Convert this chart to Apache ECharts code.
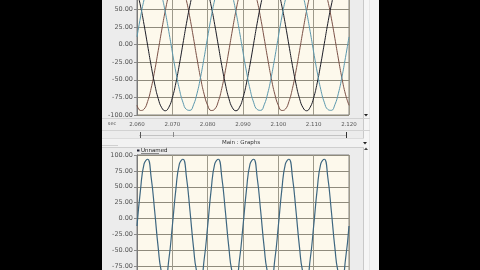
<!DOCTYPE html>
<html>
<head>
<meta charset="utf-8">
<script src="https://cdn.jsdelivr.net/npm/echarts@6/dist/echarts.min.js"></script>
<style>
html,body{margin:0;padding:0;background:#000;}
#c{width:480px;height:270px;}
</style>
</head>
<body>
<div id="c"></div>
<script>
// time samples (seconds)
var timeSec = [2.060,2.061,2.062,2.063,2.064,2.065,2.066,2.067,2.068,2.069,
  2.070,2.071,2.072,2.073,2.074,2.075,2.076,2.077,2.078,2.079,
  2.080,2.081,2.082,2.083,2.084,2.085,2.086,2.087,2.088,2.089,
  2.090,2.091,2.092,2.093,2.094,2.095,2.096,2.097,2.098,2.099,
  2.100,2.101,2.102,2.103,2.104,2.105,2.106,2.107,2.108,2.109,
  2.110,2.111,2.112,2.113,2.114,2.115,2.116,2.117,2.118,2.119,2.120];

// top graph: three phase traces
var phaseA = [-86.3,-93.6,-91.7,-80.9,-62.2,-37.3,-8.8,20.5,47.8,70.5,86.3,93.6,91.7,80.9,62.2,37.3,8.8,-20.5,-47.8,-70.5,
  -86.3,-93.6,-91.7,-80.9,-62.2,-37.3,-8.8,20.5,47.8,70.5,86.3,93.6,91.7,80.9,62.2,37.3,8.8,-20.5,-47.8,-70.5,
  -86.3,-93.6,-91.7,-80.9,-62.2,-37.3,-8.8,20.5,47.8,70.5,86.3,93.6,91.7,80.9,62.2,37.3,8.8,-20.5,-47.8,-70.5,-86.3];
var phaseB = [75.5,54.5,28.1,-1.0,-30.0,-56.0,-76.6,-89.7,-94.0,-89.1,-75.5,-54.5,-28.1,1.0,30.0,56.0,76.6,89.7,94.0,89.1,
  75.5,54.5,28.1,-1.0,-30.0,-56.0,-76.6,-89.7,-94.0,-89.1,-75.5,-54.5,-28.1,1.0,30.0,56.0,76.6,89.7,94.0,89.1,
  75.5,54.5,28.1,-1.0,-30.0,-56.0,-76.6,-89.7,-94.0,-89.1,-75.5,-54.5,-28.1,1.0,30.0,56.0,76.6,89.7,94.0,89.1,75.5];
var phaseC = [10.8,39.1,63.6,81.9,92.1,93.4,85.5,69.2,46.1,18.6,-10.8,-39.1,-63.6,-81.9,-92.1,-93.4,-85.5,-69.2,-46.1,-18.6,
  10.8,39.1,63.6,81.9,92.1,93.4,85.5,69.2,46.1,18.6,-10.8,-39.1,-63.6,-81.9,-92.1,-93.4,-85.5,-69.2,-46.1,-18.6,
  10.8,39.1,63.6,81.9,92.1,93.4,85.5,69.2,46.1,18.6,-10.8,-39.1,-63.6,-81.9,-92.1,-93.4,-85.5,-69.2,-46.1,-18.6,10.8];

// bottom graph: "Unnamed"
var unnamed = [-11.9,45.8,86.0,93.3,65.0,11.9,-45.8,-86.0,-93.3,-65.0,
  -11.9,45.8,86.0,93.3,65.0,11.9,-45.8,-86.0,-93.3,-65.0,
  -11.9,45.8,86.0,93.3,65.0,11.9,-45.8,-86.0,-93.3,-65.0,
  -11.9,45.8,86.0,93.3,65.0,11.9,-45.8,-86.0,-93.3,-65.0,
  -11.9,45.8,86.0,93.3,65.0,11.9,-45.8,-86.0,-93.3,-65.0,
  -11.9,45.8,86.0,93.3,65.0,11.9,-45.8,-86.0,-93.3,-65.0,-11.9];

var xMin = 2.06, xMax = 2.12, xStep = 0.01;
var yMin = -100, yMax = 100, yStep = 25;
var xUnit = 'sec';
var panelTitle = 'Main : Graphs';
var curveName = 'Unnamed';

function pairs(vals){ return timeSec.map(function(t,i){ return [t, vals[i]]; }); }

var FONT = 'DejaVu Sans';
function xAx(gi, showLabels){
  return {type:'value', gridIndex:gi, min:xMin, max:xMax, interval:xStep,
    axisLine:{show:false}, axisTick:{show:false},
    splitLine:{show:true, lineStyle:{color:'#9d998a', width:1}},
    axisLabel:{show:showLabels, formatter:function(v){return v.toFixed(3);}, fontSize:5.5, fontFamily:FONT, color:'#555', margin:7}};
}
function yAx(gi){
  return {type:'value', gridIndex:gi, min:yMin, max:yMax, interval:yStep,
    axisLine:{show:true, lineStyle:{color:'#7a7a7a'}},
    axisTick:{show:true, length:3, lineStyle:{color:'#8a8a8a'}},
    splitLine:{show:true, lineStyle:{color:'#8f8b7c', width:1}},
    axisLabel:{formatter:function(v){return v.toFixed(2);}, fontSize:6.5, fontFamily:FONT, color:'#555', margin:4}};
}
function ln(name, vals, xi, color, w){
  return {type:'line', name:name, xAxisIndex:xi, yAxisIndex:xi, data:pairs(vals), showSymbol:false, smooth:true,
    lineStyle:{color:color, width:w}, itemStyle:{color:color}, animation:false};
}

var chart = echarts.init(document.getElementById('c'), null, {renderer:'canvas'});
chart.setOption({
  backgroundColor:'#000',
  animation:false,
  grid:[
    {left:137, width:212, top:-26, height:141, outerBoundsMode:'none', containLabel:false, show:true, backgroundColor:'#fdf9ec', borderColor:'#808080', borderWidth:1},
    {left:137, width:212, top:155, height:127, outerBoundsMode:'none', containLabel:false, show:true, backgroundColor:'#fdf9ec', borderColor:'#808080', borderWidth:1}
  ],
  xAxis:[xAx(0,true), xAx(1,false)],
  yAxis:[yAx(0), yAx(1)],
  series:[
    ln('A', phaseA, 0, '#7a5046', 1),
    ln('B', phaseB, 0, '#1b1c26', 1),
    ln('C', phaseC, 0, '#5b98ad', 1),
    ln(curveName, unnamed, 1, '#3e6780', 1.2)
  ],
  graphic:[
    {type:'rect', z:-100, shape:{x:102, y:0, width:262, height:270}, style:{fill:'#ececec'}},
    {type:'rect', z:-99, shape:{x:364, y:0, width:15, height:270}, style:{fill:'#f6f6f6'}},
    {type:'line', z:-98, shape:{x1:363.5, y1:0, x2:363.5, y2:270}, style:{stroke:'#c9c9c9', lineWidth:1}},
    {type:'line', z:-98, shape:{x1:369.5, y1:0, x2:369.5, y2:270}, style:{stroke:'#e6e6e6', lineWidth:1}},
    {type:'line', z:-98, shape:{x1:102, y1:118.5, x2:370, y2:118.5}, style:{stroke:'#d2d2d2', lineWidth:1}},
    {type:'line', z:-98, shape:{x1:102, y1:130.5, x2:370, y2:130.5}, style:{stroke:'#d2d2d2', lineWidth:1}},
    {type:'rect', z:-98, shape:{x:102, y:139, width:262, height:8}, style:{fill:'#f2f2f2'}},
    {type:'line', z:-97, shape:{x1:102, y1:147.5, x2:364, y2:147.5}, style:{stroke:'#cfcfcf', lineWidth:1}},
    {type:'line', z:-97, shape:{x1:102, y1:138.5, x2:364, y2:138.5}, style:{stroke:'#dcdcdc', lineWidth:1}},
    {type:'line', z:5, shape:{x1:139, y1:135.5, x2:346, y2:135.5}, style:{stroke:'#c2c2c2', lineWidth:1}},
    {type:'line', z:5, shape:{x1:140.5, y1:132, x2:140.5, y2:138}, style:{stroke:'#555', lineWidth:1}},
    {type:'line', z:5, shape:{x1:173.5, y1:132, x2:173.5, y2:137}, style:{stroke:'#888', lineWidth:1}},
    {type:'line', z:5, shape:{x1:346.5, y1:132, x2:346.5, y2:138}, style:{stroke:'#333', lineWidth:1}},
    {type:'text', z:5, style:{x:241, y:143, text:panelTitle, font:'5.5px "DejaVu Sans"', fill:'#333', textAlign:'center', textVerticalAlign:'middle'}},
    {type:'text', z:5, style:{x:112, y:124, text:xUnit, font:'5px "DejaVu Sans"', fill:'#555', textAlign:'center', textVerticalAlign:'middle'}},
    {type:'polygon', z:5, shape:{points:[[364,114],[368,114],[366,116.5]]}, style:{fill:'#222'}},
    {type:'polygon', z:5, shape:{points:[[363,142],[367,142],[365,144.5]]}, style:{fill:'#222'}},
    {type:'polygon', z:5, shape:{points:[[364,150],[368,150],[366,147.5]]}, style:{fill:'#444'}},
    {type:'line', z:-97, shape:{x1:102, y1:145.5, x2:118, y2:145.5}, style:{stroke:'#d0d0d0', lineWidth:1}},
    {type:'rect', z:5, shape:{x:137, y:149.5, width:2.5, height:2}, style:{fill:'#223'}},
    {type:'text', z:5, style:{x:141, y:151, text:curveName, font:'5.5px "DejaVu Sans"', fill:'#222', textAlign:'left', textVerticalAlign:'middle'}},
    {type:'line', z:5, shape:{x1:141, y1:153.5, x2:159, y2:153.5}, style:{stroke:'#444', lineWidth:0.6}}
  ]
});
</script>
</body>
</html>
